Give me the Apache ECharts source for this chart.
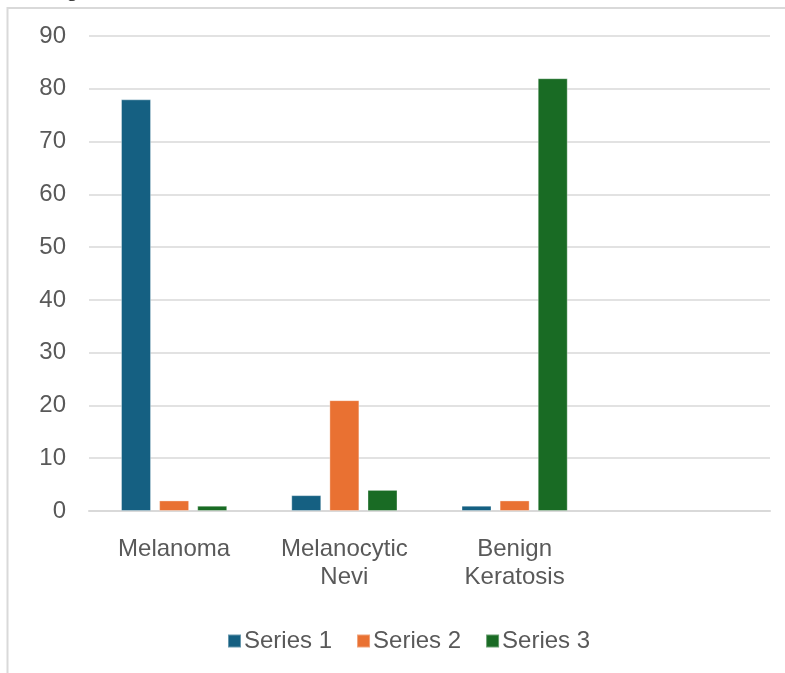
<!DOCTYPE html>
<html>
<head>
<meta charset="utf-8">
<script src="https://cdn.jsdelivr.net/npm/echarts@6/dist/echarts.min.js"></script>
<style>
  html, body { margin: 0; padding: 0; background: #fff; }
  #chart { width: 785px; height: 673px; }
</style>
</head>
<body>
<div id="chart"></div>
<script>
// Diagnosis categories (the fourth slot is left empty)
const categories = ['Melanoma', 'Melanocytic\nNevi', 'Benign\nKeratosis', ''];
const series1 = [78, 3, 1, null];
const series2 = [2, 21, 2, null];
const series3 = [1, 4, 82, null];
const seriesNames = ['Series 1', 'Series 2', 'Series 3'];
const yTicks = { min: 0, max: 90, interval: 10 };

const colors = ['#156082', '#E97132', '#196B24'];
const labelColor = '#595959';
const font = '"Liberation Sans", Arial, sans-serif';

const chart = echarts.init(document.getElementById('chart'), null, { renderer: 'canvas' });

const mkSeries = (name, data, i) => ({
  name: name,
  type: 'bar',
  data: data,
  barWidth: 30,
  barGap: '27%',
  itemStyle: { color: colors[i], borderColor: 'rgba(255,255,255,0.35)', borderWidth: 1 },
  emphasis: { disabled: true },
  animation: false
});

chart.setOption({
  backgroundColor: '#ffffff',
  animation: false,
  graphic: [
    {
      type: 'rect',
      shape: { x: 7.5, y: 8, width: 800, height: 700 },
      style: { fill: 'none', stroke: '#d9d9d9', lineWidth: 2 },
      silent: true
    },
    {
      type: 'text',
      left: 67, top: -19,
      style: { text: 'g', fill: '#000', font: '20px "Liberation Serif", serif' },
      silent: true
    }
  ],
  grid: { left: 89, right: 15, top: 36, bottom: 162, containLabel: false },
  legend: {
    data: seriesNames,
    bottom: 15,
    left: 222,
    itemWidth: 13,
    itemHeight: 13,
    itemGap: 24,
    icon: 'rect',
    textStyle: { color: labelColor, fontSize: 24, fontFamily: font, padding: [0, 0, 0, -2] }
  },
  xAxis: {
    type: 'category',
    data: categories,
    axisTick: { show: false },
    axisLine: { lineStyle: { color: '#d9d9d9', width: 2 } },
    axisLabel: {
      color: labelColor, fontSize: 24, fontFamily: font,
      lineHeight: 28, margin: 24, interval: 0
    }
  },
  yAxis: {
    type: 'value',
    min: yTicks.min, max: yTicks.max, interval: yTicks.interval,
    axisLine: { show: false },
    axisTick: { show: false },
    splitLine: { lineStyle: { color: '#d9d9d9', width: 1.5 } },
    axisLabel: { color: labelColor, fontSize: 24, fontFamily: font, margin: 23 }
  },
  series: [
    mkSeries(seriesNames[0], series1, 0),
    mkSeries(seriesNames[1], series2, 1),
    mkSeries(seriesNames[2], series3, 2)
  ]
});
</script>
</body>
</html>
